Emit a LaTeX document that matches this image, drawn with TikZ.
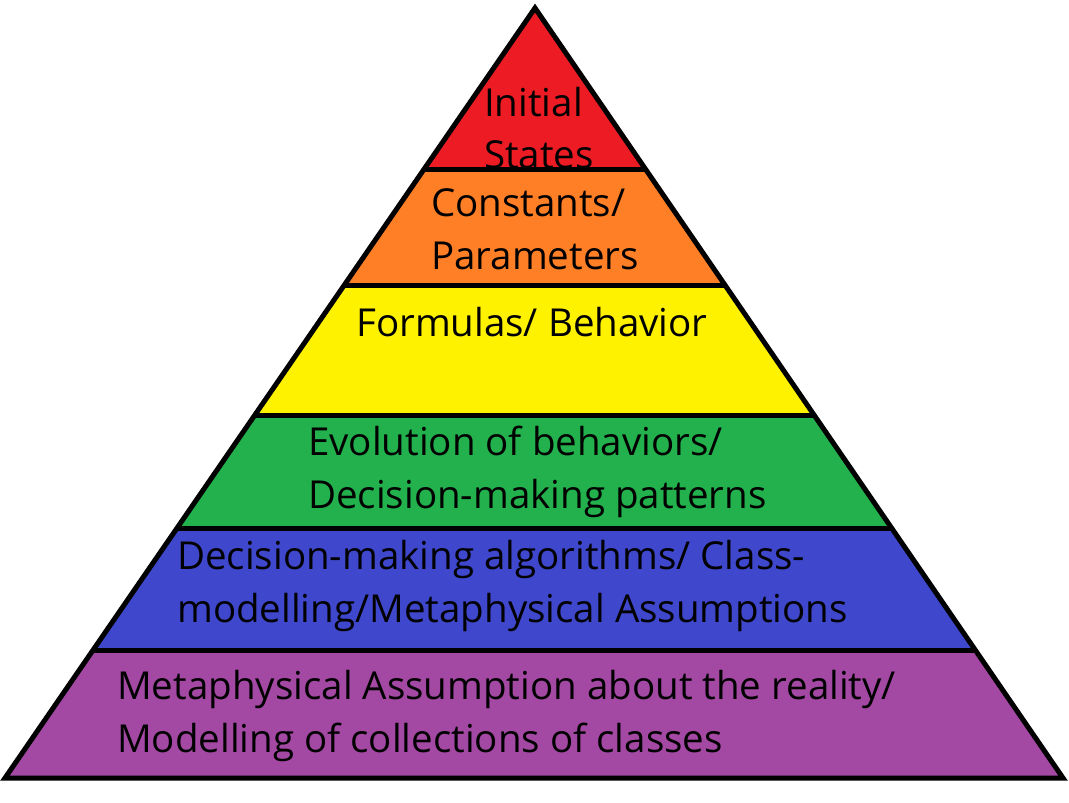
\documentclass[tikz,border=0pt]{standalone}
\usepackage{fontspec}
\setmainfont{Open Sans}
\usetikzlibrary{positioning}
\definecolor{paintred}{RGB}{237,28,36}
\definecolor{paintorange}{RGB}{255,127,39}
\definecolor{paintyellow}{RGB}{255,242,0}
\definecolor{paintgreen}{RGB}{34,177,76}
\definecolor{paintblue}{RGB}{63,72,204}
\definecolor{paintpurple}{RGB}{163,73,164}
\tikzset{
  label/.style={
    anchor=west,
    align=left,
    inner sep=0pt,
    font=\fontsize{38.5}{52.5}\selectfont
  },
  edge/.style={line width=5pt, draw=black},
  outline/.style={line width=5pt, draw=black, line join=miter}
}

\begin{document}
\begin{tikzpicture}[x=1pt, y=-1pt]
  \useasboundingbox (0,0) rectangle (1069,803);
  % corners of the pyramid
  \coordinate (apex) at (535,8);
  \coordinate (baseL) at (5,778);
  \coordinate (baseR) at (1063,778);
  % bands
  \begin{scope}
    \clip (apex) -- (baseL) -- (baseR) -- cycle;
    \fill[paintred] (0,0) rectangle (1069,169);
    \fill[paintorange] (0,169) rectangle (1069,285);
    \fill[paintyellow] (0,285) rectangle (1069,415);
    \fill[paintgreen] (0,415) rectangle (1069,528);
    \fill[paintblue] (0,528) rectangle (1069,650);
    \fill[paintpurple] (0,650) rectangle (1069,800);
    \foreach \h in {169,285,415,528,650}
      \draw[edge] (0,\h) -- (1069,\h);
  \end{scope}
  \draw[outline] (apex) -- (baseL) -- (baseR) -- cycle;
  % texts
  \node[label] (initial) at (484,128) {Initial\\States};
  \node[label] (constants) at (431,229) {Constants/\\Parameters};
  \node[label] (formulas) at (356,322) {Formulas/ Behavior};
  \node[label] (evolution) at (308,472) {Evolution of behaviors/\\Decision-making patterns};
  \node[label] (algorithms) at (177,586) {Decision-making algorithms/ Class-\\modelling/Metaphysical Assumptions};
  \node[label] (reality) at (117,716) {Metaphysical Assumption about the reality/\\Modelling of collections of classes};
\end{tikzpicture}
\end{document}
